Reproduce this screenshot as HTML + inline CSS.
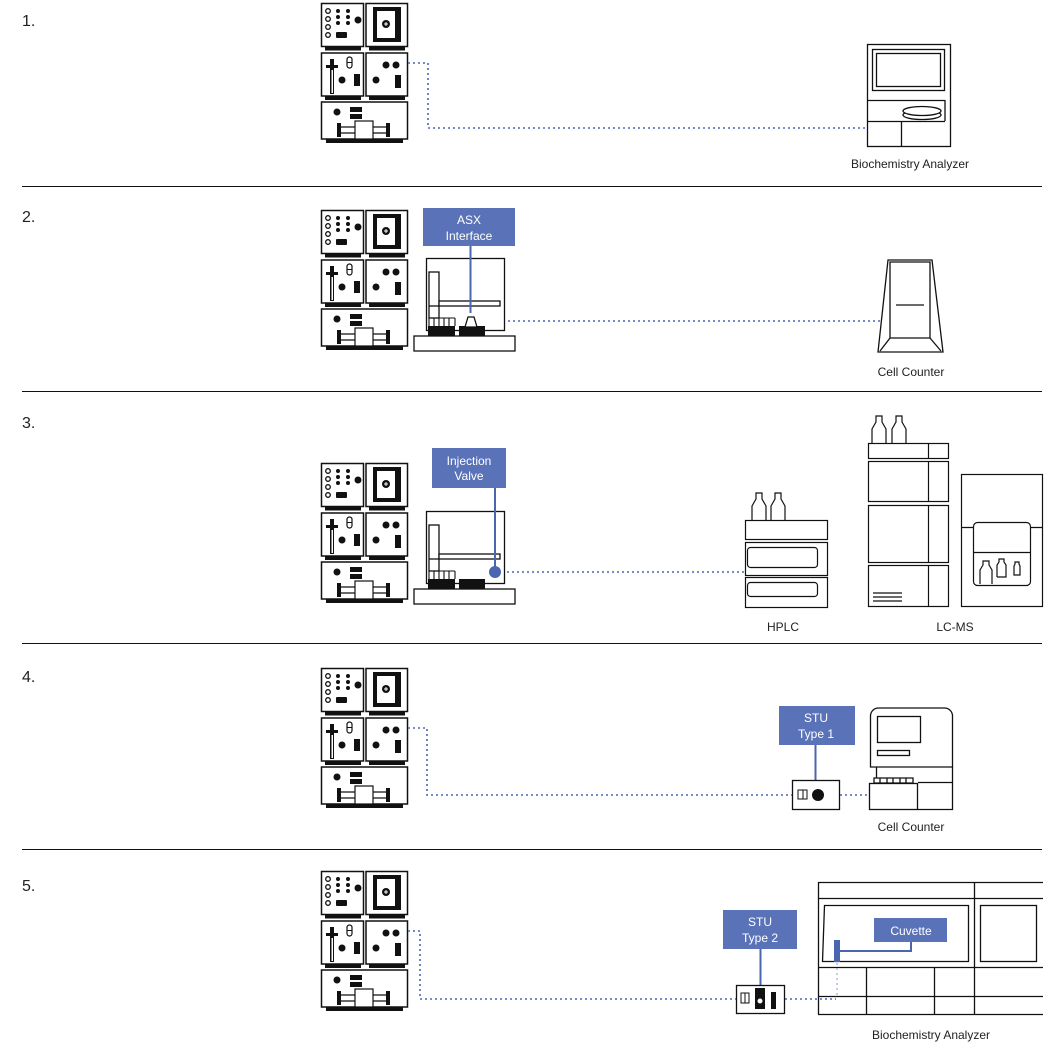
<!DOCTYPE html>
<html><head><meta charset="utf-8"><style>
body{margin:0;background:#fff;}
svg{display:block;}
text{font-family:"Liberation Sans",sans-serif;fill:#222;}
</style></head><body>
<svg width="1063" height="1050" viewBox="0 0 1063 1050" xmlns="http://www.w3.org/2000/svg">
<defs>
<g id="stack" stroke="#111" stroke-width="1.5" fill="#fff">
  <rect x="0.5" y="0.5" width="42" height="43"/>
  <rect x="45" y="0.5" width="41.5" height="43"/>
  <rect x="4" y="43.5" width="36" height="4" fill="#111" stroke="none"/>
  <rect x="48" y="43.5" width="36" height="4" fill="#111" stroke="none"/>
  <rect x="0.5" y="50" width="42" height="43"/>
  <rect x="45" y="50" width="41.5" height="43"/>
  <rect x="4" y="93" width="36" height="4" fill="#111" stroke="none"/>
  <rect x="48" y="93" width="36" height="4" fill="#111" stroke="none"/>
  <rect x="0.5" y="99" width="86" height="37"/>
  <rect x="5" y="136" width="77" height="4" fill="#111" stroke="none"/>
  <g fill="none" stroke-width="1.3">
   <circle cx="7" cy="8" r="2.3"/><circle cx="7" cy="16" r="2.3"/><circle cx="7" cy="24" r="2.3"/><circle cx="7" cy="32" r="2.3"/>
  </g>
  <g fill="#111" stroke="none">
   <circle cx="17" cy="8" r="2"/><circle cx="27" cy="8" r="2"/>
   <circle cx="17" cy="14" r="2"/><circle cx="27" cy="14" r="2"/>
   <circle cx="17" cy="20" r="2"/><circle cx="27" cy="20" r="2"/>
   <circle cx="37" cy="17" r="3.5"/>
   <rect x="15" y="29" width="11" height="6" rx="1"/>
   <rect x="52" y="4" width="28" height="35"/>
   <circle cx="65" cy="22" r="4"/>
   <rect x="5" y="62" width="12" height="3"/>
   <rect x="9" y="56" width="4" height="35"/>
   <circle cx="21" cy="77" r="3.5"/>
   <rect x="33" y="71" width="6" height="12"/>
   <circle cx="65" cy="62" r="3.5"/><circle cx="75" cy="62" r="3.5"/>
   <circle cx="55" cy="77" r="3.5"/>
   <rect x="74" y="72" width="6" height="13"/>
   <circle cx="16" cy="109" r="3.5"/>
   <rect x="29" y="104" width="12" height="5"/><rect x="29" y="111" width="12" height="5"/>
   <rect x="16" y="120" width="4" height="14"/><rect x="65" y="120" width="4" height="14"/>
  </g>
  <rect x="56" y="8" width="18" height="27" fill="#fff" stroke="none"/>
  <circle cx="65" cy="21" r="4" fill="#111" stroke="none"/>
  <path d="M63 21h4M65 19v4" stroke="#fff" stroke-width="1"/>
  <rect x="10.5" y="67" width="1.5" height="23" fill="#fff" stroke="none"/>
  <rect x="26" y="54" width="5" height="11" rx="2.5" stroke-width="1.2"/>
  <line x1="26" y1="59.5" x2="31" y2="59.5" stroke-width="1"/>
  <line x1="20" y1="124" x2="65" y2="124" stroke-width="1.2"/>
  <line x1="20" y1="130" x2="65" y2="130" stroke-width="1.2"/>
  <rect x="34" y="118" width="18" height="18" stroke-width="1.2"/>
 </g>
 <g id="asx" stroke="#111" stroke-width="1.3" fill="#fff">
  <rect x="0.5" y="0.5" width="78" height="72"/>
  <rect x="3" y="14" width="10" height="46"/>
  <line x1="3" y1="48" x2="13" y2="48"/>
  <rect x="13" y="43" width="61" height="5"/>
  <rect x="2" y="68" width="27" height="10" fill="#111" stroke="none"/>
  <rect x="33" y="68" width="26" height="10" fill="#111" stroke="none"/>
  <path d="M3 60h26M3 60v8M8 60v8M13 60v8M18 60v8M23 60v8M29 60v8" stroke-width="1.1"/>
  <rect x="-12" y="78" width="101" height="15"/>
 </g>
</defs>

<g stroke="#111" stroke-width="1"><line x1="22" y1="186.5" x2="1042" y2="186.5"/><line x1="22" y1="391.5" x2="1042" y2="391.5"/><line x1="22" y1="643.5" x2="1042" y2="643.5"/><line x1="22" y1="849.5" x2="1042" y2="849.5"/></g>
<g font-size="16"><text x="22" y="26">1.</text><text x="22" y="222">2.</text><text x="22" y="428">3.</text><text x="22" y="682">4.</text><text x="22" y="891">5.</text></g>

<use href="#stack" x="321" y="3"/>
<use href="#stack" x="321" y="210"/>
<use href="#stack" x="321" y="463"/>
<use href="#stack" x="321" y="668"/>
<use href="#stack" x="321" y="871"/>

<g fill="none" stroke="#4a66b0" stroke-width="1.6" stroke-dasharray="2 3">
 <path d="M408 63H428V128H867"/>
 <path d="M478 321H880"/>
 <path d="M502 572H745"/>
 <path d="M408 728H427V795H792"/>
 <path d="M840 795H868"/>
 <path d="M408 931H420V999H736"/>
 <path d="M785 999H836"/>
</g>

<!-- Section 1 analyzer -->
<g fill="none" stroke="#111" stroke-width="1.3">
 <rect x="867.5" y="44.5" width="83" height="102"/>
 <rect x="872.5" y="49.5" width="72" height="41"/>
 <rect x="876.5" y="53.5" width="64" height="33"/>
 <line x1="867" y1="100.5" x2="945" y2="100.5"/>
 <line x1="945" y1="100" x2="945" y2="121"/>
 <line x1="867" y1="121.5" x2="945" y2="121.5"/>
 <line x1="901.5" y1="121" x2="901.5" y2="146"/>
 <ellipse cx="922" cy="115" rx="19" ry="4.5"/>
 <ellipse cx="922" cy="111" rx="19" ry="4.5" fill="#fff"/>
</g>
<text x="910" y="168" font-size="12" text-anchor="middle">Biochemistry Analyzer</text>

<!-- Section 2 -->
<use href="#asx" x="426" y="258"/>
<path d="M465 327l3-10h6l3 10z" fill="#fff" stroke="#111" stroke-width="1.3"/>
<line x1="470.5" y1="246" x2="470.5" y2="313" stroke="#4a66b0" stroke-width="2"/>
<rect x="423" y="208" width="92" height="38" fill="#5a73b8"/>
<text x="469" y="224" font-size="12" text-anchor="middle" style="fill:#fff">ASX</text>
<text x="469" y="240" font-size="12" text-anchor="middle" style="fill:#fff">Interface</text>
<g fill="#fff" stroke="#111" stroke-width="1.3">
 <path d="M888 260H932L943 352H878Z"/>
 <path d="M890 262H930V338H890Z"/>
 <path d="M890 338L880 351M930 338L941 351" fill="none"/>
 <line x1="896" y1="305" x2="924" y2="305"/>
</g>
<text x="911" y="376" font-size="12" text-anchor="middle">Cell Counter</text>

<!-- Section 3 -->
<use href="#asx" x="426" y="511"/>
<rect x="432" y="448" width="74" height="40" fill="#5a73b8"/>
<text x="469" y="465" font-size="12" text-anchor="middle" style="fill:#fff">Injection</text>
<text x="469" y="480" font-size="12" text-anchor="middle" style="fill:#fff">Valve</text>
<line x1="495" y1="488" x2="495" y2="572" stroke="#4a66b0" stroke-width="2"/>
<circle cx="495" cy="572" r="6" fill="#4a66b0"/>
<g fill="#fff" stroke="#111" stroke-width="1.2">
 <path d="M752 520v-14l4-7v-6h6v6l4 7v14M771 520v-14l4-7v-6h6v6l4 7v14"/>
 <rect x="745.5" y="520.5" width="82" height="19"/>
 <rect x="745.5" y="542.5" width="82" height="33"/>
 <rect x="747.5" y="547.5" width="70" height="20" rx="3"/>
 <rect x="745.5" y="577.5" width="82" height="30"/>
 <rect x="747.5" y="582.5" width="70" height="14" rx="3"/>
 <path d="M872 443v-14l4-7v-6h6v6l4 7v14M892 443v-14l4-7v-6h6v6l4 7v14"/>
 <rect x="868.5" y="443.5" width="80" height="15"/><line x1="928.5" y1="443" x2="928.5" y2="458"/>
 <rect x="868.5" y="461.5" width="80" height="40"/><line x1="928.5" y1="461" x2="928.5" y2="501"/>
 <rect x="868.5" y="505.5" width="80" height="57"/><line x1="928.5" y1="505" x2="928.5" y2="562"/>
 <rect x="868.5" y="565.5" width="80" height="41"/><line x1="928.5" y1="565" x2="928.5" y2="606"/>
 <path d="M873 593h29M873 597h29M873 601h29"/>
 <rect x="961.5" y="474.5" width="81" height="132"/>
 <line x1="961" y1="527.5" x2="1043" y2="527.5"/>
 <rect x="973.5" y="522.5" width="57" height="63" rx="4"/>
 <line x1="973" y1="552.5" x2="1031" y2="552.5"/>
 <path d="M980 584v-14l3-5v-4h6v4l3 5v14M997 577v-12l2-3v-3h5v3l2 3v12H997M1014 575v-9l1-2v-2h4v2l1 2v9z"/>
</g>
<text x="783" y="631" font-size="12" text-anchor="middle">HPLC</text>
<text x="955" y="631" font-size="12" text-anchor="middle">LC-MS</text>

<!-- Section 4 -->
<line x1="815.5" y1="745" x2="815.5" y2="780" stroke="#4a66b0" stroke-width="2"/>
<rect x="779" y="706" width="76" height="39" fill="#5a73b8"/>
<text x="816" y="722" font-size="12" text-anchor="middle" style="fill:#fff">STU</text>
<text x="816" y="738" font-size="12" text-anchor="middle" style="fill:#fff">Type 1</text>
<rect x="792.5" y="780.5" width="47" height="29" fill="#fff" stroke="#111" stroke-width="1.3"/>
<rect x="798" y="790" width="5" height="9" fill="#fff" stroke="#111"/><rect x="803" y="790" width="4" height="9" fill="#fff" stroke="#111"/>
<circle cx="818" cy="795" r="6" fill="#111"/>
<g fill="#fff" stroke="#111" stroke-width="1.3">
 <path d="M870.5 767V716a8 8 0 0 1 8-8h66a8 8 0 0 1 8 8v51Z"/>
 <rect x="877.5" y="716.5" width="43" height="26"/>
 <rect x="877.5" y="750.5" width="32" height="5"/>
 <line x1="876.5" y1="767" x2="876.5" y2="783"/>
 <rect x="869.5" y="783.5" width="48" height="26"/>
 <line x1="918" y1="782.5" x2="953" y2="782.5"/>
 <line x1="952.5" y1="767" x2="952.5" y2="810"/>
 <line x1="918" y1="809.5" x2="953" y2="809.5"/>
 <path d="M874 778h39v5h-39zM880 778v5M887 778v5M893 778v5M900 778v5M906 778v5"/>
</g>
<text x="911" y="831" font-size="12" text-anchor="middle">Cell Counter</text>

<!-- Section 5 -->
<line x1="760.5" y1="949" x2="760.5" y2="985" stroke="#4a66b0" stroke-width="2"/>
<rect x="723" y="910" width="74" height="39" fill="#5a73b8"/>
<text x="760" y="926" font-size="12" text-anchor="middle" style="fill:#fff">STU</text>
<text x="760" y="942" font-size="12" text-anchor="middle" style="fill:#fff">Type 2</text>
<rect x="736.5" y="985.5" width="48" height="28" fill="#fff" stroke="#111" stroke-width="1.3"/>
<rect x="741" y="993" width="4" height="10" fill="#fff" stroke="#111"/><rect x="745" y="993" width="4" height="10" fill="#fff" stroke="#111"/>
<rect x="755" y="988" width="10" height="21" fill="#111"/><circle cx="760" cy="1001" r="2.5" fill="#fff"/>
<rect x="771" y="992" width="5" height="17" fill="#111"/>
<g fill="none" stroke="#111" stroke-width="1.3">
 <path d="M818.5 1014V882.5H1043"/>
 <line x1="818" y1="898.5" x2="1043" y2="898.5"/>
 <line x1="974.5" y1="882" x2="974.5" y2="1014"/>
 <path d="M824.5 905.5H968.5V961.5H822.5Z"/>
 <rect x="980.5" y="905.5" width="56" height="56"/>
 <line x1="818" y1="967.5" x2="1043" y2="967.5"/>
 <line x1="818" y1="996.5" x2="1043" y2="996.5"/>
 <line x1="818" y1="1014.5" x2="1043" y2="1014.5"/>
 <line x1="866.5" y1="967" x2="866.5" y2="1015"/>
 <line x1="934.5" y1="967" x2="934.5" y2="1015"/>
</g>
<line x1="837" y1="963" x2="837" y2="998" stroke="#8a9bd0" stroke-width="1" stroke-dasharray="2 3"/>
<rect x="874" y="918" width="73" height="24" fill="#5a73b8"/>
<text x="911" y="935" font-size="12" text-anchor="middle" style="fill:#fff">Cuvette</text>
<path d="M911 942V951H839" fill="none" stroke="#4a66b0" stroke-width="2"/>
<rect x="834" y="940" width="6" height="22" fill="#4a66b0"/>
<text x="931" y="1039" font-size="12" text-anchor="middle">Biochemistry Analyzer</text>
</svg>
</body></html>
